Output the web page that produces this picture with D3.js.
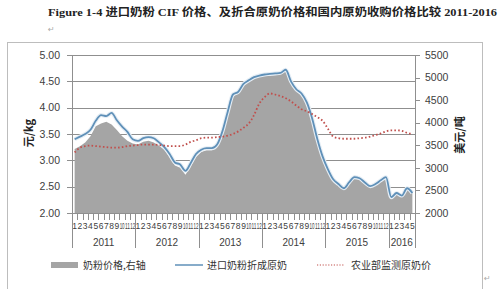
<!DOCTYPE html>
<html>
<head>
<meta charset="utf-8">
<script src="https://d3js.org/d3.v7.min.js"></script>
<style>
    body { margin: 0; background: #fff; }
    svg { display: block; }
    .tick-label { font-family: "Liberation Sans", Arial, sans-serif; font-size: 10.5px; fill: #404040; }
    .cjk { font-family: "Noto Sans CJK SC", sans-serif; }
</style>
</head>
<body>
<svg width="500" height="289"></svg>
<script>
// months Jan 2011 .. May 2016
var years = ["2011", "2012", "2013", "2014", "2015", "2016"];
var monthsPerYear = [12, 12, 12, 12, 12, 5];

// 奶粉价格 (USD/ton, right axis)
var powderPrice = [
    3420, 3480, 3560, 3700, 3920, 3980, 4020, 3960, 3840, 3700, 3600, 3540,
    3520, 3580, 3600, 3560, 3490, 3400, 3230, 3050, 3000, 2850, 3030, 3240,
    3350, 3390, 3390, 3480, 3770, 4200, 4580, 4640, 4820, 4910, 4980, 5020,
    5040, 5060, 5070, 5080, 5160, 4890, 4720, 4620, 4420, 4080, 3620, 3240,
    2990, 2793, 2677, 2583, 2700, 2828, 2805, 2712, 2618, 2665, 2747, 2817,
    2362, 2467, 2397, 2572, 2467
];

// 进口奶粉折成原奶 (yuan/kg, left axis)
var importRaw = [
    3.40, 3.45, 3.50, 3.58, 3.75, 3.86, 3.84, 3.90, 3.76, 3.64, 3.54, 3.40,
    3.37, 3.42, 3.44, 3.42, 3.34, 3.25, 3.12, 2.96, 2.92, 2.80, 2.95, 3.12,
    3.20, 3.23, 3.23, 3.30, 3.55, 3.92, 4.25, 4.30, 4.45, 4.52, 4.58, 4.61,
    4.63, 4.64, 4.65, 4.66, 4.72, 4.50, 4.35, 4.27, 4.10, 3.80, 3.40, 3.07,
    2.83, 2.64, 2.55, 2.47, 2.58, 2.68, 2.66, 2.58, 2.51, 2.55, 2.62, 2.68,
    2.30, 2.38, 2.33, 2.47, 2.38
];

// 农业部监测原奶价 (yuan/kg, left axis)
var ministryRaw = [
    3.15, 3.24, 3.27, 3.28, 3.27, 3.26, 3.25, 3.24, 3.24, 3.25, 3.27, 3.28,
    3.29, 3.30, 3.30, 3.30, 3.29, 3.28, 3.27, 3.27, 3.27, 3.30, 3.35, 3.38,
    3.42, 3.43, 3.43, 3.44, 3.45, 3.47, 3.50, 3.55, 3.62, 3.70, 3.86, 4.08,
    4.20, 4.27, 4.25, 4.22, 4.18, 4.12, 4.04, 3.97, 3.93, 3.88, 3.82, 3.75,
    3.60, 3.45, 3.42, 3.41, 3.41, 3.41, 3.42, 3.43, 3.45, 3.48, 3.51, 3.55,
    3.57, 3.57, 3.56, 3.52, 3.50
];

var leftTicks = [2.00, 2.50, 3.00, 3.50, 4.00, 4.50, 5.00];
var rightTicks = [2000, 2500, 3000, 3500, 4000, 4500, 5000, 5500];

var svg = d3.select("svg");
var plot = { left: 72, right: 415, top: 55, bottom: 213 };

// category list
var cats = [], monthLabels = [];
years.forEach(function (yr, k) {
    for (var m = 1; m <= monthsPerYear[k]; m++) {
        cats.push(yr + "-" + m);
        monthLabels.push(String(m));
    }
});

var xBand = d3.scaleBand().domain(cats).range([plot.left, plot.right]);
var xPt = function (i) { return xBand(cats[i]) + xBand.bandwidth() / 2; };
var yL = d3.scaleLinear().domain([2, 5]).range([plot.bottom, plot.top]);
var yR = d3.scaleLinear().domain([2000, 5500]).range([plot.bottom, plot.top]);

// outer frame
svg.append("rect")
    .attr("x", 7.5).attr("y", 42.5).attr("width", 475).attr("height", 260)
    .attr("fill", "none").attr("stroke", "#bdbdbd");

// title
svg.append("text")
    .attr("x", 48).attr("y", 16)
    .attr("font-family", "'Liberation Serif', 'Noto Sans CJK SC', serif")
    .attr("font-weight", "bold").attr("font-size", 11.3).attr("fill", "#222")
    .attr("textLength", 449).attr("lengthAdjust", "spacingAndGlyphs")
    .text("Figure 1-4  进口奶粉 CIF 价格、及折合原奶价格和国内原奶收购价格比较  2011-2016");
svg.append("text").attr("x", 48).attr("y", 32).attr("font-size", 8).attr("fill", "#aaa")
    .attr("font-family", "DejaVu Sans").text("↵");
svg.append("text").attr("x", 484).attr("y", 281).attr("font-size", 8).attr("fill", "#aaa")
    .attr("font-family", "DejaVu Sans").text("↵");

// gridlines
svg.append("g").selectAll("line").data(leftTicks.slice(1)).join("line")
    .attr("x1", plot.left).attr("x2", plot.right)
    .attr("y1", function (d) { return Math.round(yL(d)) + 0.5; })
    .attr("y2", function (d) { return Math.round(yL(d)) + 0.5; })
    .attr("stroke", "#8f8f8f").attr("stroke-width", 1);

// area (right axis)
var area = d3.area()
    .x(function (d, i) { return xPt(i); })
    .y0(plot.bottom)
    .y1(function (d) { return yR(d); });
svg.append("path").datum(powderPrice)
    .attr("d", area).attr("fill", "#a5a5a5");

// blue line with light halo
var lineL = d3.line()
    .x(function (d, i) { return xPt(i); })
    .y(function (d) { return yL(d); })
    .curve(d3.curveMonotoneX);
svg.append("path").datum(importRaw).attr("d", lineL)
    .attr("fill", "none").attr("stroke", "#e6eef5").attr("stroke-width", 4);
svg.append("path").datum(importRaw).attr("d", lineL)
    .attr("fill", "none").attr("stroke", "#5f90b8").attr("stroke-width", 1.8);

// red dotted line
svg.append("path").datum(ministryRaw).attr("d", lineL)
    .attr("fill", "none").attr("stroke", "#c0504d").attr("stroke-width", 1.8)
    .attr("stroke-dasharray", "1.6,2.2");

// left axis
var axL = svg.append("g");
axL.append("line").attr("x1", plot.left + 0.5).attr("x2", plot.left + 0.5)
    .attr("y1", plot.top).attr("y2", plot.bottom).attr("stroke", "#8f8f8f");
axL.selectAll(".t").data(leftTicks).join("line")
    .attr("x1", plot.left - 5).attr("x2", plot.left)
    .attr("y1", function (d) { return Math.round(yL(d)) + 0.5; })
    .attr("y2", function (d) { return Math.round(yL(d)) + 0.5; })
    .attr("stroke", "#8f8f8f");
axL.selectAll("text").data(leftTicks).join("text")
    .attr("class", "tick-label")
    .attr("x", 60).attr("y", function (d) { return yL(d); })
    .attr("dy", "0.35em").attr("text-anchor", "end")
    .text(function (d) { return d3.format(".2f")(d); });

// right axis
var axR = svg.append("g");
axR.append("line").attr("x1", plot.right + 0.5).attr("x2", plot.right + 0.5)
    .attr("y1", plot.top).attr("y2", plot.bottom).attr("stroke", "#8f8f8f");
axR.selectAll(".t").data(rightTicks).join("line")
    .attr("x1", plot.right).attr("x2", plot.right + 5)
    .attr("y1", function (d) { return Math.round(yR(d)) + 0.5; })
    .attr("y2", function (d) { return Math.round(yR(d)) + 0.5; })
    .attr("stroke", "#8f8f8f");
axR.selectAll("text").data(rightTicks).join("text")
    .attr("class", "tick-label")
    .attr("x", 425).attr("y", function (d) { return yR(d); })
    .attr("dy", "0.35em").attr("text-anchor", "start")
    .text(function (d) { return d; });

// axis titles
svg.append("text").attr("class", "cjk")
    .attr("transform", "translate(33,133) rotate(-90)")
    .attr("text-anchor", "middle").attr("font-size", 11).attr("font-weight", "bold")
    .attr("fill", "#222").text("元/kg");
svg.append("text").attr("class", "cjk")
    .attr("transform", "translate(464,135) rotate(-90)")
    .attr("text-anchor", "middle").attr("font-size", 11).attr("font-weight", "bold")
    .attr("fill", "#222").text("美元/吨");

// x axis
var axX = svg.append("g");
axX.append("line").attr("x1", plot.left).attr("x2", plot.right + 1)
    .attr("y1", plot.bottom + 0.5).attr("y2", plot.bottom + 0.5).attr("stroke", "#8f8f8f");
axX.selectAll(".mt").data(cats).join("line")
    .attr("x1", function (d) { return Math.round(xBand(d)) + 0.5; })
    .attr("x2", function (d) { return Math.round(xBand(d)) + 0.5; })
    .attr("y1", plot.bottom).attr("y2", plot.bottom + 7)
    .attr("stroke", "#8f8f8f");
// month numbers are crowded like the original; two-digit ones squeezed into the band
axX.selectAll(".ml").data(cats).join("text")
    .attr("class", "tick-label")
    .style("font-size", "8.5px")
    .attr("x", function (d, i) { return xPt(i); })
    .attr("y", 229).attr("text-anchor", "middle")
    .attr("textLength", function (d, i) { return monthLabels[i].length > 1 ? 5 : null; })
    .attr("lengthAdjust", "spacingAndGlyphs")
    .text(function (d, i) { return monthLabels[i]; });

var yearStart = [], s = 0;
monthsPerYear.forEach(function (n) { yearStart.push(s); s += n; });
var bounds = yearStart.map(function (i) { return xBand(cats[i]); }).concat([plot.right]);
axX.selectAll(".yb").data(bounds).join("line")
    .attr("x1", function (d) { return Math.round(d) + 0.5; })
    .attr("x2", function (d) { return Math.round(d) + 0.5; })
    .attr("y1", plot.bottom).attr("y2", 248).attr("stroke", "#8f8f8f");
axX.selectAll(".yl").data(years).join("text")
    .attr("class", "tick-label").style("font-size", "10px")
    .attr("x", function (d, k) { return (bounds[k] + bounds[k + 1]) / 2; })
    .attr("y", 246).attr("text-anchor", "middle")
    .text(function (d) { return d; });

// legend
var lg = svg.append("g").attr("class", "cjk").attr("font-size", 10).attr("fill", "#333");
lg.append("rect").attr("x", 51).attr("y", 262).attr("width", 27).attr("height", 6).attr("fill", "#a5a5a5");
lg.append("text").attr("x", 83).attr("y", 265).attr("dy", "0.35em").text("奶粉价格,右轴");
lg.append("line").attr("x1", 175).attr("x2", 203).attr("y1", 265).attr("y2", 265)
    .attr("stroke", "#5f90b8").attr("stroke-width", 1.5);
lg.append("text").attr("x", 207).attr("y", 265).attr("dy", "0.35em").text("进口奶粉折成原奶");
lg.append("line").attr("x1", 317).attr("x2", 345).attr("y1", 265).attr("y2", 265)
    .attr("stroke", "#c0504d").attr("stroke-width", 1.2).attr("stroke-dasharray", "1.2,1.6");
lg.append("text").attr("x", 351).attr("y", 265).attr("dy", "0.35em").text("农业部监测原奶价");
</script>
</body>
</html>
